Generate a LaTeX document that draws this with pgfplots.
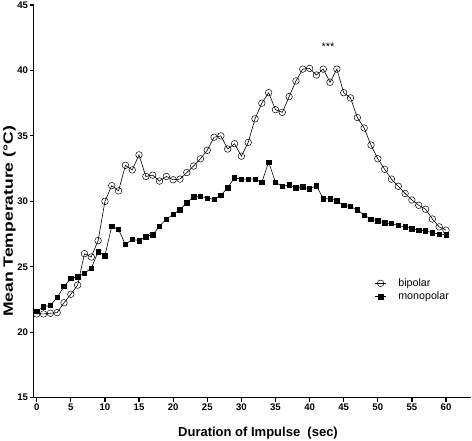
\documentclass[border=0pt]{standalone}
\usepackage{graphicx}
\usepackage{pgfplots}
\pgfplotsset{compat=1.18}
\usepackage{fontspec}
\setmainfont{Liberation Sans}

\pgfplotstableread{
x y
0 21.4
1 21.4
2 21.45
3 21.5
4 22.25
5 22.9
6 23.6
7 26.0
8 25.75
9 27.0
10 30.0
11 31.2
12 30.8
13 32.75
14 32.4
15 33.55
16 31.9
17 32.0
18 31.55
19 31.9
20 31.65
21 31.7
22 32.2
23 32.7
24 33.25
25 33.9
26 34.9
27 35.0
28 34.0
29 34.4
30 33.45
31 34.5
32 36.3
33 37.5
34 38.3
35 37.0
36 36.8
37 38.0
38 39.2
39 40.1
40 40.15
41 39.65
42 40.1
43 39.1
44 40.1
45 38.3
46 37.9
47 36.4
48 35.6
49 34.3
50 33.25
51 32.45
52 31.7
53 31.15
54 30.6
55 30.1
56 29.7
57 29.4
58 28.65
59 28.05
60 27.8
}\bipolar

\pgfplotstableread{
x y
0 21.6
1 21.95
2 22.05
3 22.65
4 23.5
5 24.1
6 24.25
7 24.5
8 24.9
9 26.15
10 25.85
11 28.1
12 27.85
13 26.7
14 27.1
15 27.0
16 27.3
17 27.45
18 28.1
19 28.65
20 29.0
21 29.35
22 29.9
23 30.35
24 30.4
25 30.25
26 30.15
27 30.45
28 31.05
29 31.8
30 31.7
31 31.7
32 31.7
33 31.45
34 33.0
35 31.45
36 31.15
37 31.25
38 31.05
39 31.1
40 30.95
41 31.2
42 30.2
43 30.2
44 30.05
45 29.7
46 29.6
47 29.35
48 28.95
49 28.65
50 28.5
51 28.35
52 28.3
53 28.15
54 28.05
55 27.9
56 27.8
57 27.75
58 27.6
59 27.5
60 27.45
}\monopolar

\begin{document}
\begin{tikzpicture}[x=1pt,y=1pt]
\begin{axis}[
  at={(33.7pt,43.3pt)}, anchor=south west,
  scale only axis,
  width=437.3pt, height=392.7pt,
  xmin=-0.44, xmax=63.66,
  ymin=15, ymax=45,
  axis x line=bottom, axis y line=left,
  axis line style={-, line width=1.4pt, black},
  xtick={0,5,...,60}, ytick={15,20,...,45},
  tick align=outside,
  major tick length=4pt,
  tick style={line width=1.2pt, black},
  /pgf/number format/assume math mode=true,
  tick label style={font=\bfseries\fontsize{9.6}{11}\selectfont, inner sep=1.5pt},
  legend cell align=left,
  legend image code/.code={\draw[mark repeat=2,mark phase=2,#1] plot coordinates {(0pt,0pt) (5.35pt,0pt) (10.7pt,0pt)};},
  legend style={at={(axis description cs:0.7805,0.3040)}, anchor=north west,
    draw=none, fill=none, inner sep=0pt, outer sep=0pt,
    column sep=12pt, row sep=3.4pt,
    nodes={inner sep=0pt, text height=8pt, text depth=2pt, anchor=west},
    font=\fontsize{10.7}{12}\selectfont},
  clip=false,
]
\addplot[black, line width=0.6pt, mark=o, mark size=3.3pt, mark options={line width=0.5pt, fill=none}] table[x=x,y=y] {\bipolar};
\addlegendentry{bipolar}
\addplot[black, line width=0.6pt, mark=square*, mark size=2.2pt, mark options={fill=black}] table[x=x,y=y] {\monopolar};
\addlegendentry{monopolar}
\node[anchor=base, font=\fontsize{11}{12}\selectfont] at (axis cs:42.7,41.54) {***};
\end{axis}
\node[font=\bfseries\fontsize{13}{15}\selectfont] at (258,8) {Duration of Impulse\ \ (sec)};
\node[rotate=90, font=\bfseries\fontsize{13.5}{15}\selectfont] at (9.5,219.5) {\scalebox{1.3}[1]{Mean Temperature (°C)}};
\pgfresetboundingbox
\path[use as bounding box] (0,0) rectangle (472,441);
\end{tikzpicture}
\end{document}
